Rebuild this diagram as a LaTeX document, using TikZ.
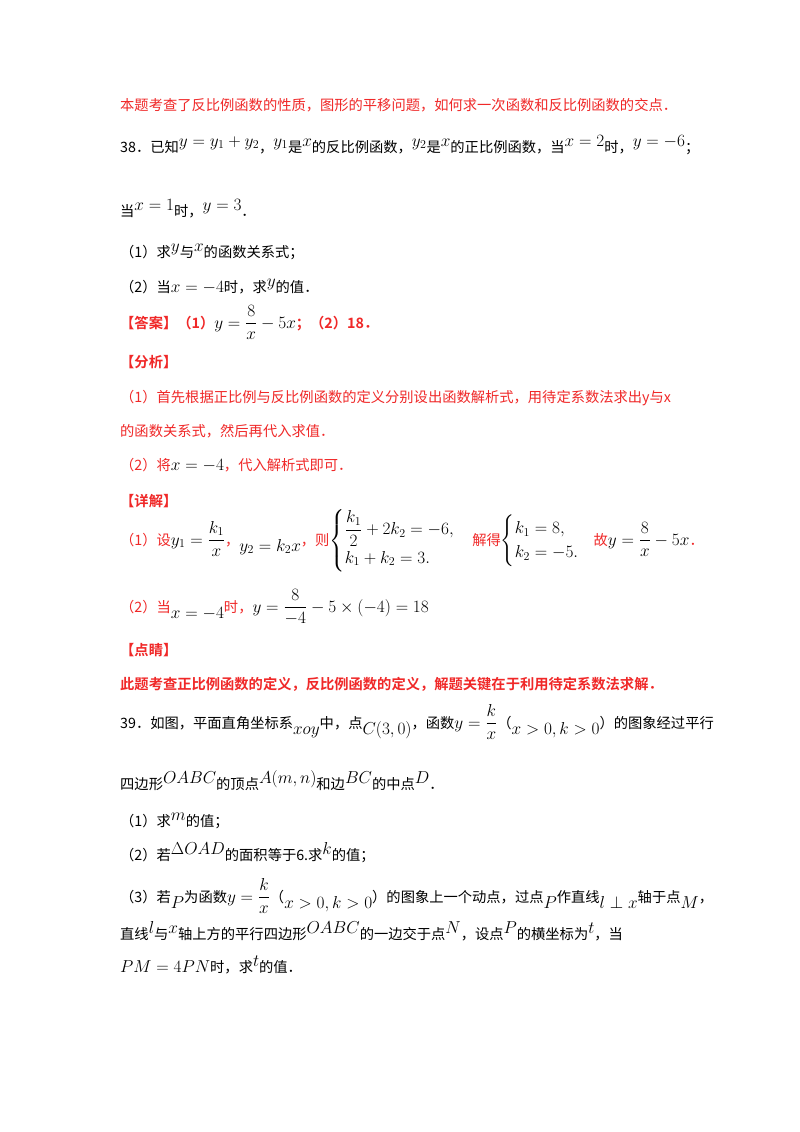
\documentclass[tikz,border=0pt]{standalone}
\usepackage{amsmath}
\usepackage{fontspec}
\setmainfont{Liberation Serif}
\newfontfamily\cjk[Scale=0.84]{Noto Sans CJK SC}
\newfontfamily\cjkb[Scale=0.84]{Noto Sans CJK SC Bold}
\definecolor{rd}{RGB}{240,40,40}
\newcommand{\up}[1]{\raisebox{6pt}{$#1$}}
\newcommand{\dn}[1]{\raisebox{-6pt}{$#1$}}
\begin{document}
\begin{tikzpicture}[x=1pt,y=-1pt,
  ln/.style={anchor=base west,inner sep=0pt,font=\fontsize{17}{20}\cjk},
  red/.style={ln,text=rd}]
\useasboundingbox[fill=white] (0,0) rectangle (800,1132);
\node[red] (l1) at (120,110) {本题考查了反比例函数的性质，图形的平移问题，如何求一次函数和反比例函数的交点．};
\node[ln] (l2) at (120,152) {38．已知\up{y=y_1+y_2}，\up{y_1}是\up{x}的反比例函数，\up{y_2}是\up{x}的正比例函数，当\up{x=2}时，\up{y=-6}；};
\node[ln] (l3) at (120,216) {当\up{x=1}时，\up{y=3}．};
\node[ln] (l4) at (120,257) {（1）求\up{y}与\up{x}的函数关系式；};
\node[ln] (l5) at (120,292) {（2）当$x=-4$时，求\up{y}的值．};
\node[red] (l6) at (120,328) {\cjkb 【答案】（1）\textcolor{black}{$y=\dfrac{8}{x}-5x$}；（2）18．};
\node[red] (l7) at (120,367) {\cjkb 【分析】};
\node[red] (l8) at (120,402) {（1）首先根据正比例与反比例函数的定义分别设出函数解析式，用待定系数法求出y与x};
\node[red] (l9) at (120,436) {的函数关系式，然后再代入求值．};
\node[red] (l10) at (120,470) {（2）将\textcolor{black}{$x=-4$}，代入解析式即可．};
\node[red] (l11) at (120,506) {\cjkb 【详解】};
\node[red] (l12) at (120,545) {（1）设\textcolor{black}{$y_1=\dfrac{k_1}{x}$}，\textcolor{black}{\dn{y_2=k_2x}}，则\textcolor{black}{$\begin{cases}\dfrac{k_1}{2}+2k_2=-6,\\[0pt] k_1+k_2=3.\end{cases}$}\ 解得\textcolor{black}{$\begin{cases}k_1=8,\\ k_2=-5.\end{cases}$}故\textcolor{black}{$y=\dfrac{8}{x}-5x$}．};
\node[red] (l13) at (120,612) {（2）当\textcolor{black}{\dn{x=-4}}时，\textcolor{black}{$y=\dfrac{8}{-4}-5\times\left(-4\right)=18$}};
\node[red] (l14) at (120,655) {\cjkb 【点睛】};
\node[red] (l15) at (120,689) {\cjkb 此题考查正比例函数的定义，反比例函数的定义，解题关键在于利用待定系数法求解．};
\node[ln] (l16) at (120,728) {39．如图，平面直角坐标系\dn{xoy}中，点\dn{C(3,0)}，函数$y=\dfrac{k}{x}$（\dn{x>0,k>0}）的图象经过平行};
\node[ln] (l17) at (120,789) {四边形\up{OABC}的顶点\up{A(m,n)}和边\up{BC}的中点\up{D}．};
\node[ln] (l18) at (120,826) {（1）求\up{m}的值；};
\node[ln] (l19) at (120,860) {（2）若\up{\Delta OAD}的面积等于6.求\up{k}的值；};
\node[ln] (l20) at (120,902) {（3）若\dn{P}为函数$y=\dfrac{k}{x}$（\dn{x>0,k>0}）的图象上一个动点，过点\dn{P}作直线\dn{l\perp x}轴于点\dn{M}，};
\node[ln] (l21) at (120,939) {直线\up{l}与\up{x}轴上方的平行四边形\up{OABC}的一边交于点\up{N}，设点\up{P}的横坐标为\up{t}，当};
\node[ln] (l22) at (120,972) {$PM=4PN$时，求\up{t}的值．};
\end{tikzpicture}
\end{document}
